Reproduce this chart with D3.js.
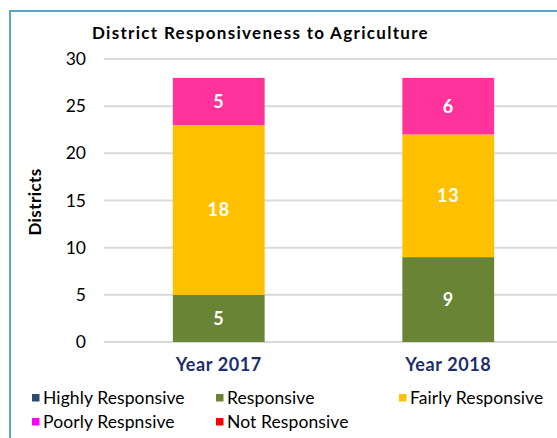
<!DOCTYPE html>
<html>
<head>
<meta charset="utf-8">
<script src="https://cdn.jsdelivr.net/npm/d3@7"></script>
<style>
  html, body { margin: 0; padding: 0; background: #fff; overflow: hidden; }
  svg { display: block; font-family: Lato, "Open Sans", sans-serif; }
</style>
</head>
<body>
<svg id="chart" width="557" height="438"></svg>
<script>
// Categories and stacked series
const years = ["Year 2017", "Year 2018"];
const seriesNames = ["Highly Responsive", "Responsive", "Fairly Responsive", "Poorly Respnsive", "Not Responsive"];
const highlyResponsive = [0, 0];
const responsive = [5, 9];
const fairlyResponsive = [18, 13];
const poorlyResponsive = [5, 6];
const notResponsive = [0, 0];
const yTicks = [0, 5, 10, 15, 20, 25, 30];

const barColors = ["#2d4b6d", "#6a8436", "#ffc000", "#ff3399", "#ff0000"];
const swatchColors = ["#2d4b6d", "#6a8436", "#ffc000", "#ff00ff", "#ff0000"];

const seriesValues = [highlyResponsive, responsive, fairlyResponsive, poorlyResponsive, notResponsive];
const rows = years.map((y, i) => {
  const r = { year: y };
  seriesNames.forEach((s, k) => { r[s] = seriesValues[k][i]; });
  return r;
});

const svg = d3.select("#chart");

// outer frame
svg.append("rect")
  .attr("x", 10).attr("y", 11)
  .attr("width", 600).attr("height", 500)
  .attr("fill", "#fff")
  .attr("stroke", "#5aa6c3").attr("stroke-width", 2);

const x = d3.scaleBand().domain(years).range([104, 563]).paddingInner(0.6).paddingOuter(0.3);
const y = d3.scaleLinear().domain([0, 30]).range([342, 59]);

// gridlines
svg.append("g")
  .selectAll("line")
  .data(yTicks)
  .join("line")
  .attr("x1", 104).attr("x2", 563)
  .attr("y1", d => y(d)).attr("y2", d => y(d))
  .attr("stroke", "#d9d9d9").attr("stroke-width", 2);

// y axis labels
const yAxis = d3.axisLeft(y).tickValues(yTicks).tickSize(0).tickPadding(0);
svg.append("g")
  .attr("transform", "translate(86,0)")
  .call(yAxis)
  .call(g => g.select(".domain").remove())
  .call(g => g.selectAll("text")
    .attr("font-family", "Lato, sans-serif")
    .attr("font-size", 17.5)
    .attr("fill", "#000"));

// stacked bars
const stack = d3.stack().keys(seriesNames)(rows);
const layers = svg.append("g").selectAll("g")
  .data(stack)
  .join("g")
  .attr("fill", (d, i) => barColors[i]);

layers.selectAll("rect")
  .data(d => d.filter(p => p[1] - p[0] > 0))
  .join("rect")
  .attr("x", d => x(d.data.year))
  .attr("width", x.bandwidth())
  .attr("y", d => y(d[1]))
  .attr("height", d => y(d[0]) - y(d[1]));

// value labels
layers.selectAll("text")
  .data(d => d.filter(p => p[1] - p[0] > 0).map(p => ({ p, key: d.key })))
  .join("text")
  .attr("x", d => x(d.p.data.year) + x.bandwidth() / 2)
  .attr("y", d => (y(d.p[0]) + y(d.p[1])) / 2)
  .attr("dy", "0.36em")
  .attr("text-anchor", "middle")
  .attr("font-size", 18)
  .attr("font-weight", "bold")
  .attr("letter-spacing", 0.8)
  .attr("fill", "#fff")
  .text(d => d.p[1] - d.p[0]);

// x axis labels
const xAxis = d3.axisBottom(x).tickSize(0).tickPadding(0);
svg.append("g")
  .attr("transform", "translate(0,371)")
  .call(xAxis)
  .call(g => g.select(".domain").remove())
  .call(g => g.selectAll("text")
    .attr("dy", 0)
    .attr("font-family", "Lato, sans-serif")
    .attr("font-size", 18)
    .attr("font-weight", "bold")
    .attr("letter-spacing", 0.6)
    .attr("fill", "#1c2f6b"));

// title
svg.append("text")
  .attr("x", 92).attr("y", 39)
  .attr("font-size", 17)
  .attr("font-weight", "bold")
  .attr("letter-spacing", 1.3)
  .attr("fill", "#000")
  .text("District Responsiveness to Agriculture");

// y axis title
svg.append("text")
  .attr("transform", "translate(41,202) rotate(-90)")
  .attr("text-anchor", "middle")
  .attr("font-size", 17)
  .attr("font-weight", "bold")
  .attr("letter-spacing", 0.4)
  .attr("fill", "#000")
  .text("Districts");

// legend
const legendPos = [[32, 398], [216, 398], [399, 398], [32, 422], [216, 422]];
const legend = svg.append("g").selectAll("g")
  .data(seriesNames)
  .join("g")
  .attr("transform", (d, i) => `translate(${legendPos[i][0]},${legendPos[i][1]})`);
legend.append("rect")
  .attr("x", 0).attr("y", -4)
  .attr("width", 7.5).attr("height", 7.5)
  .attr("fill", (d, i) => swatchColors[i]);
legend.append("text")
  .attr("x", 11).attr("y", 6)
  .attr("font-size", 17.5)
  .attr("letter-spacing", 0.1)
  .attr("fill", "#000")
  .text(d => d);
</script>
</body>
</html>
